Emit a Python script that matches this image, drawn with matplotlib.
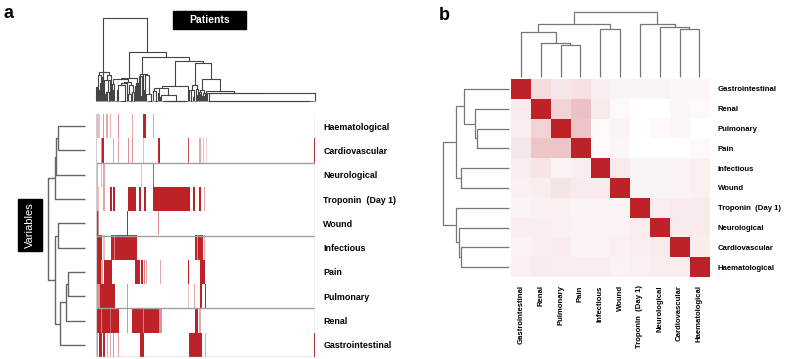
import sys
import numpy as np
import matplotlib
matplotlib.use("Agg")
import matplotlib.pyplot as plt
from matplotlib.colors import LinearSegmentedColormap
from matplotlib.collections import LineCollection
from matplotlib.patches import Rectangle

sys.setrecursionlimit(5000)
plt.rcParams['font.family'] = ['Liberation Sans', 'DejaVu Sans']

W, H = 789, 359
RED = '#BE2229'
cmap = LinearSegmentedColormap.from_list('wr', ['#FFFFFF', RED])

# ---------------- Panel a data ----------------
variables_a = ["Haematological", "Cardiovascular", "Neurological", "Troponin  (Day 1)", "Wound",
               "Infectious", "Pain", "Pulmonary", "Renal", "Gastrointestinal"]
n_patients = 220

# red segments per variable: (first patient, last patient, value)
haematological = [(1, 3, .3), (7, 7, .45), (10, 11, .4), (14, 14, .35), (22, 22, .5), (36, 36, .4),
                  (47, 49, 1), (57, 57, .4)]
cardiovascular = [(5, 5, .5), (6, 7, 1), (17, 17, .4), (22, 22, .4), (32, 32, .5), (36, 36, .5),
                  (47, 47, .3), (62, 63, 1), (92, 92, .8), (103, 104, .4), (107, 107, .3),
                  (111, 111, .2), (219, 219, 1)]
neurological = [(1, 1, .4), (5, 5, .3), (7, 8, .4), (45, 45, .3), (57, 57, .8), (109, 109, .8)]
troponin = [(1, 2, .3), (7, 8, .4), (14, 15, 1), (17, 18, 1), (32, 39, 1), (43, 44, 1), (48, 49, 1),
            (57, 93, 1), (97, 98, 1), (103, 104, 1), (108, 108, .4)]
wound = [(0, 1, 1), (2, 2, .5), (31, 31, 1), (62, 62, .5)]
infectious = [(0, 5, 1), (7, 8, .3), (15, 17, 1), (18, 18, .6), (19, 40, 1), (99, 100, 1),
              (101, 101, .5), (102, 106, 1), (108, 108, .4)]
pain = [(0, 4, 1), (5, 6, .4), (8, 15, 1), (39, 43, 1), (45, 46, 1), (48, 48, .6), (50, 50, .4),
        (64, 64, .4), (92, 92, 1), (104, 108, 1)]
pulmonary = [(0, 2, .5), (3, 3, .5), (4, 18, 1), (31, 31, .5), (92, 92, .3), (98, 98, .4),
             (104, 105, 1), (110, 110, 1)]
renal = [(0, 4, 1), (5, 5, .6), (6, 13, 1), (14, 14, .7), (15, 22, 1), (31, 31, .5), (36, 46, 1),
         (47, 47, .6), (48, 62, 1), (63, 65, .5), (99, 101, 1), (103, 104, .4)]
gastrointestinal = [(1, 1, .5), (3, 5, 1), (7, 8, 1), (11, 11, .4), (14, 14, .4), (17, 17, .5),
                    (22, 22, .4), (44, 47, 1), (93, 105, 1), (110, 110, .4), (219, 219, 1)]
rows_a = [haematological, cardiovascular, neurological, troponin, wound,
          infectious, pain, pulmonary, renal, gastrointestinal]
row_separators = [2, 5, 8, 10]

# variable dendrogram (height, left, right); leaves = row index
variable_tree = (36.7, (30, (29, (26.7, 0, 1), 2), 3),
                 (30, (26.7, 4, 5), (25, (18.7, (17.3, 6, 7), 8), 9)))

# patient dendrogram: upper structure, sub-groups clustered from data
# group: (first patient, last patient, top height, tie-break rule)
patient_groups = {'L1': (0, 15, 29.3, 'left'), 'C2': (16, 41, 23.3, 'left'),
                  'C3': (42, 56, 26.7, 'left'), 'C4': (57, 92, 15.0, 'balanced'),
                  'C5': (93, 102, 16.0, 'left'), 'C5b': (103, 109, 11.0, 'left'),
                  'Z': (112, 218, 0.0, 'right')}
patient_tree = (83, 'L1', (48.7, 'C2', (44.3, 'C3', (40, 'C4', (38.3, 'C5',
                (21.7, 'C5b', (10.3, 110, (8.3, 111, (8.3, 'Z', 219)))))))))

# ---------------- Panel b data ----------------
variables_b = ["Gastrointestinal", "Renal", "Pulmonary", "Pain", "Infectious", "Wound",
               "Troponin  (Day 1)", "Neurological", "Cardiovascular", "Haematological"]
corr_b = [
    [1, .16, .11, .14, .08, .05, .05, .05, .04, .04],
    [.09, 1, .20, .28, .09, .03, 0, 0, .04, .03],
    [.08, .20, 1, .26, .02, .05, 0, .03, .04, 0],
    [.11, .26, .26, 1, .03, .04, 0, 0, 0, .03],
    [.08, .12, .06, .08, 1, .09, .05, .05, .06, .07],
    [.07, .08, .12, .09, .09, 1, .05, .05, .06, .07],
    [.05, .07, .07, .05, .06, .05, 1, .08, .09, .09],
    [.08, .08, .07, .06, .06, .06, .08, 1, .09, .09],
    [.06, .08, .09, .06, .06, .07, .08, .09, 1, .08],
    [.07, .09, .08, .08, .08, .06, .07, .08, .08, 1],
]
tree_b = (65, (52.4, (45, 0, (34, 1, (31.7, 2, 3))), (47.4, 4, 5)),
          (52.4, 6, (50, 7, (47.4, 8, 9))))

# ---------------- helpers ----------------
M = np.zeros((len(rows_a), n_patients))
for r, segs in enumerate(rows_a):
    for a, b, v in segs:
        M[r, a:b + 1] = v


def constrained_cluster(first, last, rule):
    cols = list(range(first, last + 1))
    clusters = [[c] for c in cols]
    nodes = list(cols)
    hs = [0.0] * len(cols)
    while len(clusters) > 1:
        d = []
        for k in range(len(clusters) - 1):
            A = M[:, clusters[k]].T
            B = M[:, clusters[k + 1]].T
            dist = np.sqrt(((A[:, None, :] - B[None, :, :]) ** 2).sum(-1)).mean()
            d.append(dist)
        d = np.array(d)
        cand = np.flatnonzero(d <= d.min() + 1e-12)
        if rule == 'left':
            k = int(cand[0])
        elif rule == 'right':
            k = int(cand[-1])
        else:
            sizes = [len(clusters[c]) + len(clusters[c + 1]) for c in cand]
            k = int(cand[int(np.argmin(sizes))])
        h = max(d[k], hs[k], hs[k + 1])
        nodes[k:k + 2] = [(h, nodes[k], nodes[k + 1])]
        clusters[k:k + 2] = [clusters[k] + clusters[k + 1]]
        hs[k:k + 2] = [h]
    return nodes[0]


def scale_tree(node, f):
    if isinstance(node, int):
        return node
    return (node[0] * f, scale_tree(node[1], f), scale_tree(node[2], f))


def expand(node):
    if isinstance(node, str):
        a, b, top, rule = patient_groups[node]
        sub = constrained_cluster(a, b, rule)
        if isinstance(sub, int):
            return sub
        f = top / sub[0] if sub[0] > 0 else 0.0
        return scale_tree(sub, f)
    if isinstance(node, int):
        return node
    return (node[0], expand(node[1]), expand(node[2]))


def layout(node, segs):
    if isinstance(node, int):
        return node + 0.5, 0.0
    h, l, r = node
    xl, hl = layout(l, segs)
    xr, hr = layout(r, segs)
    segs.append([(xl, hl), (xl, h), (xr, h), (xr, hr)])
    return (xl + xr) / 2, h


def fig_axes(fig, x0, y0, x1, y1):
    ax = fig.add_axes([x0 / W, 1 - y1 / H, (x1 - x0) / W, (y1 - y0) / H])
    ax.set_axis_off()
    return ax


def draw_dendro(ax, tree, orient, color, lw):
    segs = []
    layout(tree, segs)
    if orient == 'left':
        segs = [[(p[1], p[0]) for p in s] for s in segs]
    lc = LineCollection(segs, colors=color, linewidths=lw, clip_on=False)
    ax.add_collection(lc)


fig = plt.figure(figsize=(W / 100, H / 100), dpi=100)

# ---------------- Panel a ----------------
axh = fig.add_axes([96 / W, 1 - 357 / H, 219 / W, 243 / H])
axh.imshow(M, cmap=cmap, vmin=0, vmax=1, aspect='auto', interpolation='nearest',
           extent=(0, n_patients, len(rows_a), 0))
for y in row_separators:
    axh.axhline(y, color='#a0a0a0', lw=1.0)
axh.axvline(n_patients, color='#999999', lw=0.9)
axh.axvline(0, color='#cccccc', lw=0.8)
for s in axh.spines.values():
    s.set_visible(False)
axh.set_xticks([])
axh.yaxis.tick_right()
axh.set_yticks(np.arange(len(variables_a)) + 0.5)
axh.set_yticklabels(variables_a, fontsize=6.4, fontweight='bold')
axh.tick_params(axis='y', length=0, pad=6)
axh.set_xlim(0, n_patients)
axh.set_ylim(len(rows_a), 0)

axp = fig_axes(fig, 96, 18, 315, 101)
draw_dendro(axp, expand(patient_tree), 'top', '#444444', 0.8)
axp.set_xlim(0, n_patients)
axp.set_ylim(0, 83)

axv = fig_axes(fig, 48.3, 114, 85, 357)
draw_dendro(axv, variable_tree, 'left', '#666666', 1.0)
axv.set_xlim(36.7, 0)
axv.set_ylim(len(rows_a), 0)

# label boxes
fig.add_artist(Rectangle((173.3 / W, 1 - 29.3 / H), 72.4 / W, 18.3 / H,
                         transform=fig.transFigure, color='black'))
fig.text(209.5 / W, 1 - 20.2 / H, 'Patients', color='white', fontsize=7.5, fontweight='bold',
         ha='center', va='center')
fig.add_artist(Rectangle((18.3 / W, 1 - 251 / H), 23.4 / W, 52 / H,
                         transform=fig.transFigure, color='black'))
fig.text(30 / W, 1 - 225 / H, 'Variables', color='white', fontsize=8, rotation=90,
         ha='center', va='center')

fig.text(4 / W, 1 - 18.5 / H, 'a', fontsize=13, fontweight='bold', ha='left', va='baseline')
fig.text(439 / W, 1 - 20 / H, 'b', fontsize=13, fontweight='bold', ha='left', va='baseline')

# ---------------- Panel b ----------------
axb = fig.add_axes([511 / W, 1 - 277 / H, 198.3 / W, 198 / H])
axb.imshow(np.array(corr_b), cmap=cmap, vmin=0, vmax=1, aspect='auto', interpolation='nearest',
           extent=(0, 10, 10, 0))
for s in axb.spines.values():
    s.set_visible(False)
axb.set_xticks(np.arange(10) + 0.5)
axb.set_xticklabels(variables_b, rotation=90, fontsize=5.6, fontweight='bold')
axb.yaxis.tick_right()
axb.set_yticks(np.arange(10) + 0.5)
axb.set_yticklabels(variables_b, fontsize=5.6, fontweight='bold')
axb.tick_params(length=0, pad=6)

axbt = fig_axes(fig, 511, 11.7, 709.3, 76.7)
draw_dendro(axbt, tree_b, 'top', '#777777', 0.9)
axbt.set_xlim(0, 10)
axbt.set_ylim(0, 65)

axbl = fig_axes(fig, 443.3, 79, 509.3, 277)
draw_dendro(axbl, tree_b, 'left', '#777777', 0.9)
axbl.set_xlim(65, 0)
axbl.set_ylim(10, 0)

fig.savefig('out.png', dpi=100)
